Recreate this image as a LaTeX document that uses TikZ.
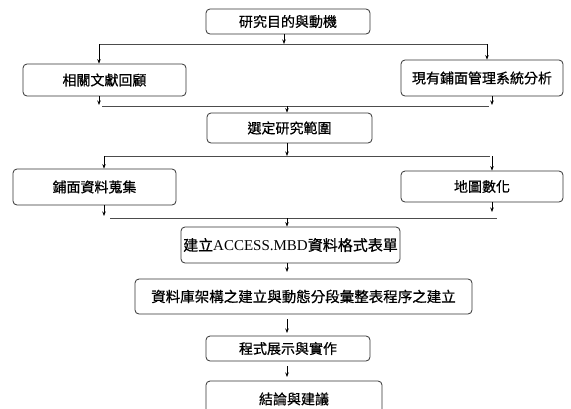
\documentclass[tikz,border=0pt]{standalone}
\usepackage{fontspec}
\setmainfont{Liberation Serif}
\newfontfamily\cjk[FakeBold=0.6]{Noto Sans CJK TC}
\usetikzlibrary{arrows.meta}
\tikzset{
  box/.style={draw=black!80, line width=0.8pt, rounded corners=4pt, inner sep=0pt,
    font=\cjk\fontsize{14}{16}\selectfont, fill=white},
  ln/.style={draw=black!70, line width=0.9pt},
  arr/.style={draw=black, line width=0.7pt, -{Stealth[length=4.5pt,width=3.5pt]}},
}
\begin{document}
\begin{tikzpicture}[x=1pt,y=-1pt]
\useasboundingbox (0,0) rectangle (571,408);
\clip (0,0) rectangle (571,408);
\fill[white] (0,0) rectangle (571,408);
% boxes
\node[box, minimum width=164pt, minimum height=25pt] (b1) at (288,21.5) {研究目的與動機};
\node[box, minimum width=163pt, minimum height=32pt] (b2) at (104.5,80) {相關文獻回顧};
\node[box, minimum width=162pt, minimum height=36pt] (b3) at (482,78) {現有鋪面管理系統分析};
\node[box, minimum width=165pt, minimum height=30pt] (b4) at (289.5,128) {選定研究範圍};
\node[box, minimum width=163pt, minimum height=36pt] (b5) at (94.5,187) {鋪面資料蒐集};
\node[box, minimum width=162pt, minimum height=31pt] (b6) at (482,186.5) {地圖數化};
\node[box, minimum width=219pt, minimum height=36pt, font=\fontsize{15}{17}\selectfont] (b7) at (290.5,245) {{\cjk 建立}ACCESS.MBD{\cjk 資料格式表單}};
\node[box, minimum width=337pt, minimum height=35pt, font=\cjk\fontsize{14.5}{16}\selectfont] (b8) at (303.5,296.5) {資料庫架構之建立與動態分段彙整表程序之建立};
\node[box, minimum width=164pt, minimum height=25pt] (b9) at (288,348.5) {程式展示與實作};
\node[box, minimum width=176pt, minimum height=36pt] (b10) at (294,399) {結論與建議};
% split 1
\coordinate (j1) at (284,44);
\coordinate (h1a) at (99,44);
\coordinate (h1b) at (487,44);
\draw[ln] (h1a) -- (h1b);
\draw[arr] (b1.south -| j1) -- (j1);
\draw[arr] (h1a) -- (h1a |- b2.north);
\draw[arr] (h1b) -- (h1b |- b3.north);
% merge 1
\coordinate (h2a) at (102,106);
\coordinate (h2b) at (489,106);
\coordinate (m2a) at (99,105);
\coordinate (m2b) at (492,105);
\draw[ln] (h2a) -- (h2b);
\draw[arr] (b2.south -| m2a) -- (m2a);
\draw[arr] (b3.south -| m2b) -- (m2b);
\coordinate (j2) at (287,106);
\draw[arr] (j2) -- (j2 |- b4.north);
% split 2
\coordinate (j3) at (287,156);
\coordinate (h3a) at (105,156);
\coordinate (h3b) at (490,156);
\draw[ln] (h3a) -- (h3b);
\draw[arr] (b4.south -| j3) -- (j3);
\coordinate (s3a) at (104,156);
\coordinate (s3b) at (492,156);
\draw[arr] (s3a) -- (s3a |- b5.north);
\draw[arr] (s3b) -- (s3b |- b6.north);
% merge 2
\coordinate (h4a) at (110,218);
\coordinate (h4b) at (497,218);
\coordinate (m4a) at (104,216);
\coordinate (m4b) at (492,212);
\draw[ln] (h4a) -- (h4b);
\draw[arr] (b5.south -| m4a) -- (m4a);
\draw[arr] (b6.south -| m4b) -- (m4b);
\coordinate (j4) at (287,218);
\draw[arr] (j4) -- (j4 |- b7.north);
% chain
\coordinate (c1) at (287,272);
\draw[arr] (b7.south -| c1) -- (c1);
\coordinate (c2a) at (287,319);
\coordinate (c2b) at (287,333);
\draw[arr] (c2a) -- (c2b);
\coordinate (c3a) at (287,366);
\coordinate (c3b) at (287,377);
\draw[arr] (c3a) -- (c3b);
\end{tikzpicture}
\end{document}
